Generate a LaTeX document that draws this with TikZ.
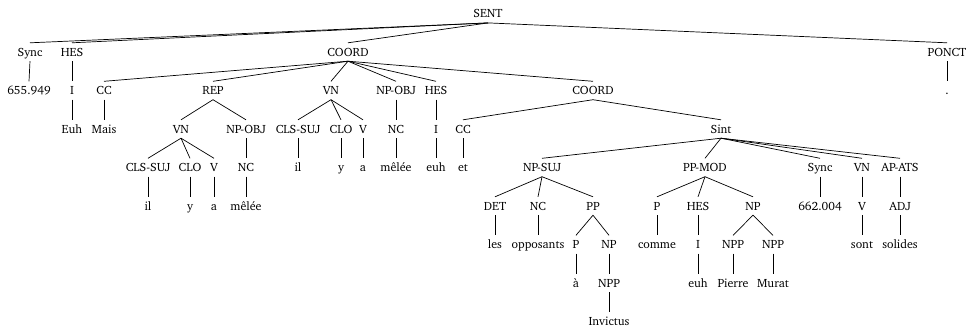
\documentclass[tikz,border=0pt]{standalone}
\usepackage[T1]{fontenc}
\usepackage{charter}
\tikzset{
  lab/.style={inner xsep=1pt, inner ysep=4pt, text height=9pt, text depth=1pt,
              font=\fontsize{12}{14}\selectfont},
  br/.style={line width=0.7pt}
}
\begin{document}
\begin{tikzpicture}[x=1pt,y=-1pt]
\useasboundingbox (0,0) rectangle (967,327);
% row heights
\def\ra{13.7}\def\rb{52}\def\rc{90.5}\def\rd{129}\def\re{167.5}
\def\rf{206}\def\rg{244.5}\def\rh{283}\def\ri{321.5}
% root
\node[lab] (sent) at (488,\ra) {SENT};
% level 1
\node[lab] (sync1) at (30,\rb) {Sync};
\node[lab] (hes1) at (72,\rb) {HES};
\node[lab] (coord1) at (348,\rb) {COORD};
\node[lab] (ponct) at (947,\rb) {PONCT};
% level 2
\node[lab] (t1) at (29,\rc) {655.949};
\node[lab] (i1) at (72,\rc) {I};
\node[lab] (cc1) at (104,\rc) {CC};
\node[lab] (rep) at (213,\rc) {REP};
\node[lab] (vn2) at (331,\rc) {VN};
\node[lab] (npobj2) at (396,\rc) {NP-OBJ};
\node[lab] (hes2) at (436,\rc) {HES};
\node[lab] (coord2) at (593,\rc) {COORD};
\node[lab] (dot) at (947,\rc) {.};
% level 3
\node[lab] (euh1) at (72,\rd) {Euh};
\node[lab] (mais) at (104,\rd) {Mais};
\node[lab] (vn1) at (181,\rd) {VN};
\node[lab] (npobj1) at (246,\rd) {NP-OBJ};
\node[lab] (cls2) at (298,\rd) {CLS-SUJ};
\node[lab] (clo2) at (341,\rd) {CLO};
\node[lab] (v2) at (363,\rd) {V};
\node[lab] (nc2) at (396,\rd) {NC};
\node[lab] (i2) at (436,\rd) {I};
\node[lab] (cc2) at (463,\rd) {CC};
\node[lab] (sint) at (721,\rd) {Sint};
% level 4
\node[lab] (cls1) at (148,\re) {CLS-SUJ};
\node[lab] (clo1) at (190,\re) {CLO};
\node[lab] (v1) at (214,\re) {V};
\node[lab] (nc1) at (246,\re) {NC};
\node[lab] (il2) at (298,\re) {il};
\node[lab] (y2) at (341,\re) {y};
\node[lab] (a2) at (363,\re) {a};
\node[lab] (melee2) at (396,\re) {m\^el\'ee};
\node[lab] (euh2) at (436,\re) {euh};
\node[lab] (et) at (463,\re) {et};
\node[lab] (npsuj) at (542,\re) {NP-SUJ};
\node[lab] (ppmod) at (705,\re) {PP-MOD};
\node[lab] (sync2) at (820,\re) {Sync};
\node[lab] (vn3) at (862,\re) {VN};
\node[lab] (apats) at (900,\re) {AP-ATS};
% level 5
\node[lab] (il1) at (148,\rf) {il};
\node[lab] (y1) at (190,\rf) {y};
\node[lab] (a1) at (214,\rf) {a};
\node[lab] (melee1) at (246,\rf) {m\^el\'ee};
\node[lab] (det) at (495,\rf) {DET};
\node[lab] (nc3) at (538,\rf) {NC};
\node[lab] (pp) at (593,\rf) {PP};
\node[lab] (p2) at (657,\rf) {P};
\node[lab] (hes3) at (698,\rf) {HES};
\node[lab] (np2) at (753,\rf) {NP};
\node[lab] (t2) at (820,\rf) {662.004};
\node[lab] (v3) at (862,\rf) {V};
\node[lab] (adj) at (900,\rf) {ADJ};
% level 6
\node[lab] (les) at (495,\rg) {les};
\node[lab] (opp) at (538,\rg) {opposants};
\node[lab] (p1) at (576,\rg) {P};
\node[lab] (np1) at (609,\rg) {NP};
\node[lab] (comme) at (657,\rg) {comme};
\node[lab] (i3) at (698,\rg) {I};
\node[lab] (npp2) at (733,\rg) {NPP};
\node[lab] (npp3) at (773,\rg) {NPP};
\node[lab] (sont) at (862,\rg) {sont};
\node[lab] (solides) at (900,\rg) {solides};
% level 7
\node[lab] (agr) at (576,\rh) {\`a};
\node[lab] (npp1) at (609,\rh) {NPP};
\node[lab] (euh3) at (698,\rh) {euh};
\node[lab] (pierre) at (733,\rh) {Pierre};
\node[lab] (murat) at (773,\rh) {Murat};
% level 8
\node[lab] (invictus) at (609,\ri) {Invictus};
% branches
\foreach \p/\c in {sent/sync1, sent/hes1, sent/coord1, sent/ponct,
  sync1/t1, hes1/i1, i1/euh1, ponct/dot,
  coord1/cc1, coord1/rep, coord1/vn2, coord1/npobj2, coord1/hes2, coord1/coord2,
  cc1/mais, rep/vn1, rep/npobj1,
  vn1/cls1, vn1/clo1, vn1/v1, npobj1/nc1,
  cls1/il1, clo1/y1, v1/a1, nc1/melee1,
  vn2/cls2, vn2/clo2, vn2/v2, npobj2/nc2, hes2/i2,
  cls2/il2, clo2/y2, v2/a2, nc2/melee2, i2/euh2,
  coord2/cc2, coord2/sint, cc2/et,
  sint/npsuj, sint/ppmod, sint/sync2, sint/vn3, sint/apats,
  npsuj/det, npsuj/nc3, npsuj/pp, det/les, nc3/opp,
  pp/p1, pp/np1, p1/agr, np1/npp1, npp1/invictus,
  ppmod/p2, ppmod/hes3, ppmod/np2, p2/comme, hes3/i3, i3/euh3,
  np2/npp2, np2/npp3, npp2/pierre, npp3/murat,
  sync2/t2, vn3/v3, v3/sont, apats/adj, adj/solides}
  \draw[br] (\p.south) -- (\c.north);
\end{tikzpicture}
\end{document}
